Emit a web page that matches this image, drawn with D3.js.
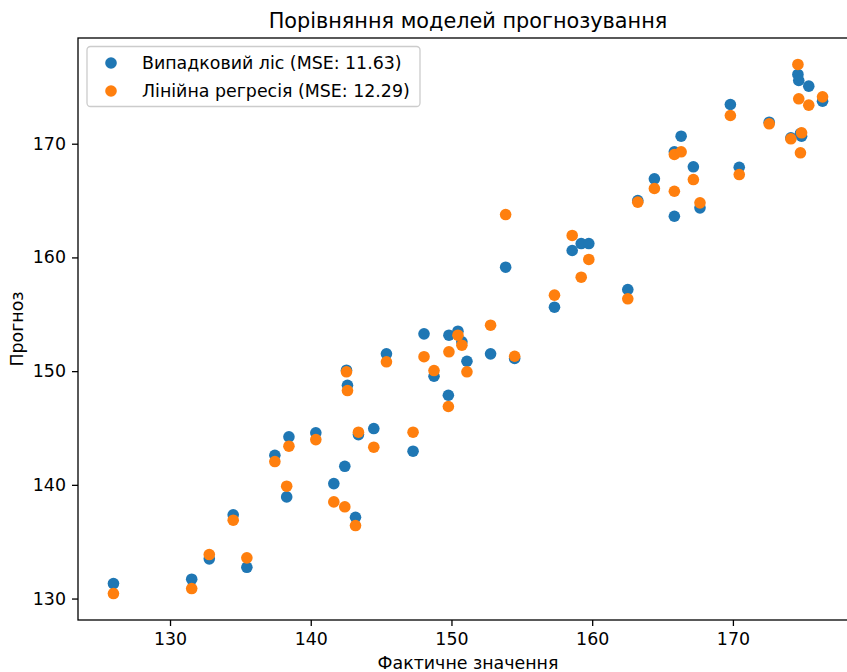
<!DOCTYPE html>
<html>
<head>
<meta charset="utf-8">
<script src="https://cdn.jsdelivr.net/npm/d3@7"></script>
<style>
  body { margin: 0; background: #fff; }
  svg { font-family: "DejaVu Sans", sans-serif; }
</style>
</head>
<body>
<svg id="chart" width="847" height="672"></svg>
<script>
// Фактичні значення (тестова вибірка)
const actual = [
  125.98, 131.54, 132.79, 134.49, 135.46, 137.45, 138.29, 138.45, 140.36, 141.64,
  142.42, 142.54, 142.61, 143.18, 143.39, 144.48, 145.38, 147.27, 148.05, 148.76,
  149.78, 149.82, 150.46, 150.74, 151.10, 152.78, 153.85, 154.49, 157.32, 158.58,
  159.22, 159.76, 162.53, 163.24, 164.42, 165.84, 165.84, 166.32, 167.19, 167.66,
  169.82, 170.45, 172.58, 174.12, 174.88, 174.80, 174.62, 174.68, 175.39, 176.37
];
// Прогноз: випадковий ліс
const rfPred = [
  131.32, 131.70, 133.49, 137.36, 132.75, 142.60, 138.94, 144.22, 144.57, 140.11,
  141.63, 150.08, 148.76, 137.15, 144.42, 144.95, 151.52, 142.96, 153.28, 149.55,
  147.88, 153.16, 153.51, 152.58, 150.87, 151.52, 159.14, 151.11, 155.62, 160.61,
  161.22, 161.22, 157.18, 165.00, 166.91, 163.62, 169.29, 170.66, 167.97, 164.36,
  173.45, 167.93, 171.89, 170.52, 170.66, 170.90, 176.09, 175.56, 175.06, 173.74
];
// Прогноз: лінійна регресія
const lrPred = [
  130.44, 130.88, 133.87, 136.89, 133.58, 142.05, 139.88, 143.40, 143.98, 138.50,
  138.07, 149.94, 148.29, 136.42, 144.63, 143.31, 150.82, 144.63, 151.27, 150.05,
  146.89, 151.70, 153.16, 152.28, 149.94, 154.04, 163.77, 151.31, 156.68, 161.93,
  158.26, 159.82, 156.36, 164.86, 166.06, 165.82, 169.05, 169.29, 166.85, 164.80,
  172.48, 167.29, 171.75, 170.43, 170.96, 169.20, 176.97, 173.95, 173.39, 174.12
];
const seriesNames = ["Випадковий ліс (MSE: 11.63)", "Лінійна регресія (MSE: 12.29)"];
const seriesColors = ["#1f77b4", "#ff7f0e"];
const xTicks = [130, 140, 150, 160, 170];
const yTicks = [130, 140, 150, 160, 170];

const svg = d3.select("#chart");
const mLeft = 78, mRight = 858, mTop = 38, mBottom = 620;
const fs = 17.4; // 10pt при ~125 dpi

// поля 5% як у matplotlib
function padded(vals) {
  const [lo, hi] = d3.extent(vals);
  const p = (hi - lo) * 0.05;
  return [lo - p, hi + p];
}
const x = d3.scaleLinear().domain(padded(actual)).range([mLeft, mRight]);
const y = d3.scaleLinear().domain(padded(rfPred.concat(lrPred))).range([mBottom, mTop]);

// точки
[rfPred, lrPred].forEach((pred, i) => {
  svg.append("g").selectAll("circle")
    .data(actual.map((a, j) => [a, pred[j]]))
    .enter()
    .append("circle")
    .attr("cx", d => x(d[0]))
    .attr("cy", d => y(d[1]))
    .attr("r", 5.8)
    .attr("fill", seriesColors[i]);
});

// рамка
svg.append("rect")
  .attr("x", mLeft).attr("y", mTop)
  .attr("width", mRight - mLeft).attr("height", mBottom - mTop)
  .attr("fill", "none").attr("stroke", "#000").attr("stroke-width", 1.3);

// осі
const xAxis = svg.append("g")
  .attr("transform", `translate(0,${mBottom})`)
  .call(d3.axisBottom(x).tickValues(xTicks).tickFormat(d3.format("d")).tickSize(6).tickPadding(7));
const yAxis = svg.append("g")
  .attr("transform", `translate(${mLeft},0)`)
  .call(d3.axisLeft(y).tickValues(yTicks).tickFormat(d3.format("d")).tickSize(6).tickPadding(6));
[xAxis, yAxis].forEach(g => {
  g.select(".domain").remove();
  g.selectAll("text").attr("font-size", fs).attr("fill", "#000")
    .attr("font-family", "DejaVu Sans, sans-serif");
  g.selectAll("line").attr("stroke", "#000").attr("stroke-width", 1.3);
});

// підписи
svg.append("text")
  .attr("x", (mLeft + mRight) / 2).attr("y", 27.5)
  .attr("text-anchor", "middle").attr("font-size", 20.8)
  .text("Порівняння моделей прогнозування");
svg.append("text")
  .attr("x", (mLeft + mRight) / 2).attr("y", 669)
  .attr("text-anchor", "middle").attr("font-size", fs)
  .text("Фактичне значення");
svg.append("text")
  .attr("transform", "translate(23,329) rotate(-90)")
  .attr("text-anchor", "middle").attr("font-size", fs)
  .text("Прогноз");

// легенда
const legend = svg.append("g").attr("transform", "translate(87,46.5)");
legend.append("rect")
  .attr("width", 333).attr("height", 60).attr("rx", 3.5)
  .attr("fill", "#fff").attr("fill-opacity", 0.8)
  .attr("stroke", "#cccccc").attr("stroke-width", 1.3);
seriesNames.forEach((name, i) => {
  const row = legend.append("g").attr("transform", `translate(0,${16.5 + i * 28})`);
  row.append("circle").attr("cx", 24).attr("cy", 0).attr("r", 5.8).attr("fill", seriesColors[i]);
  row.append("text").attr("x", 55).attr("y", 6).attr("font-size", fs).text(name);
});
</script>
</body>
</html>
